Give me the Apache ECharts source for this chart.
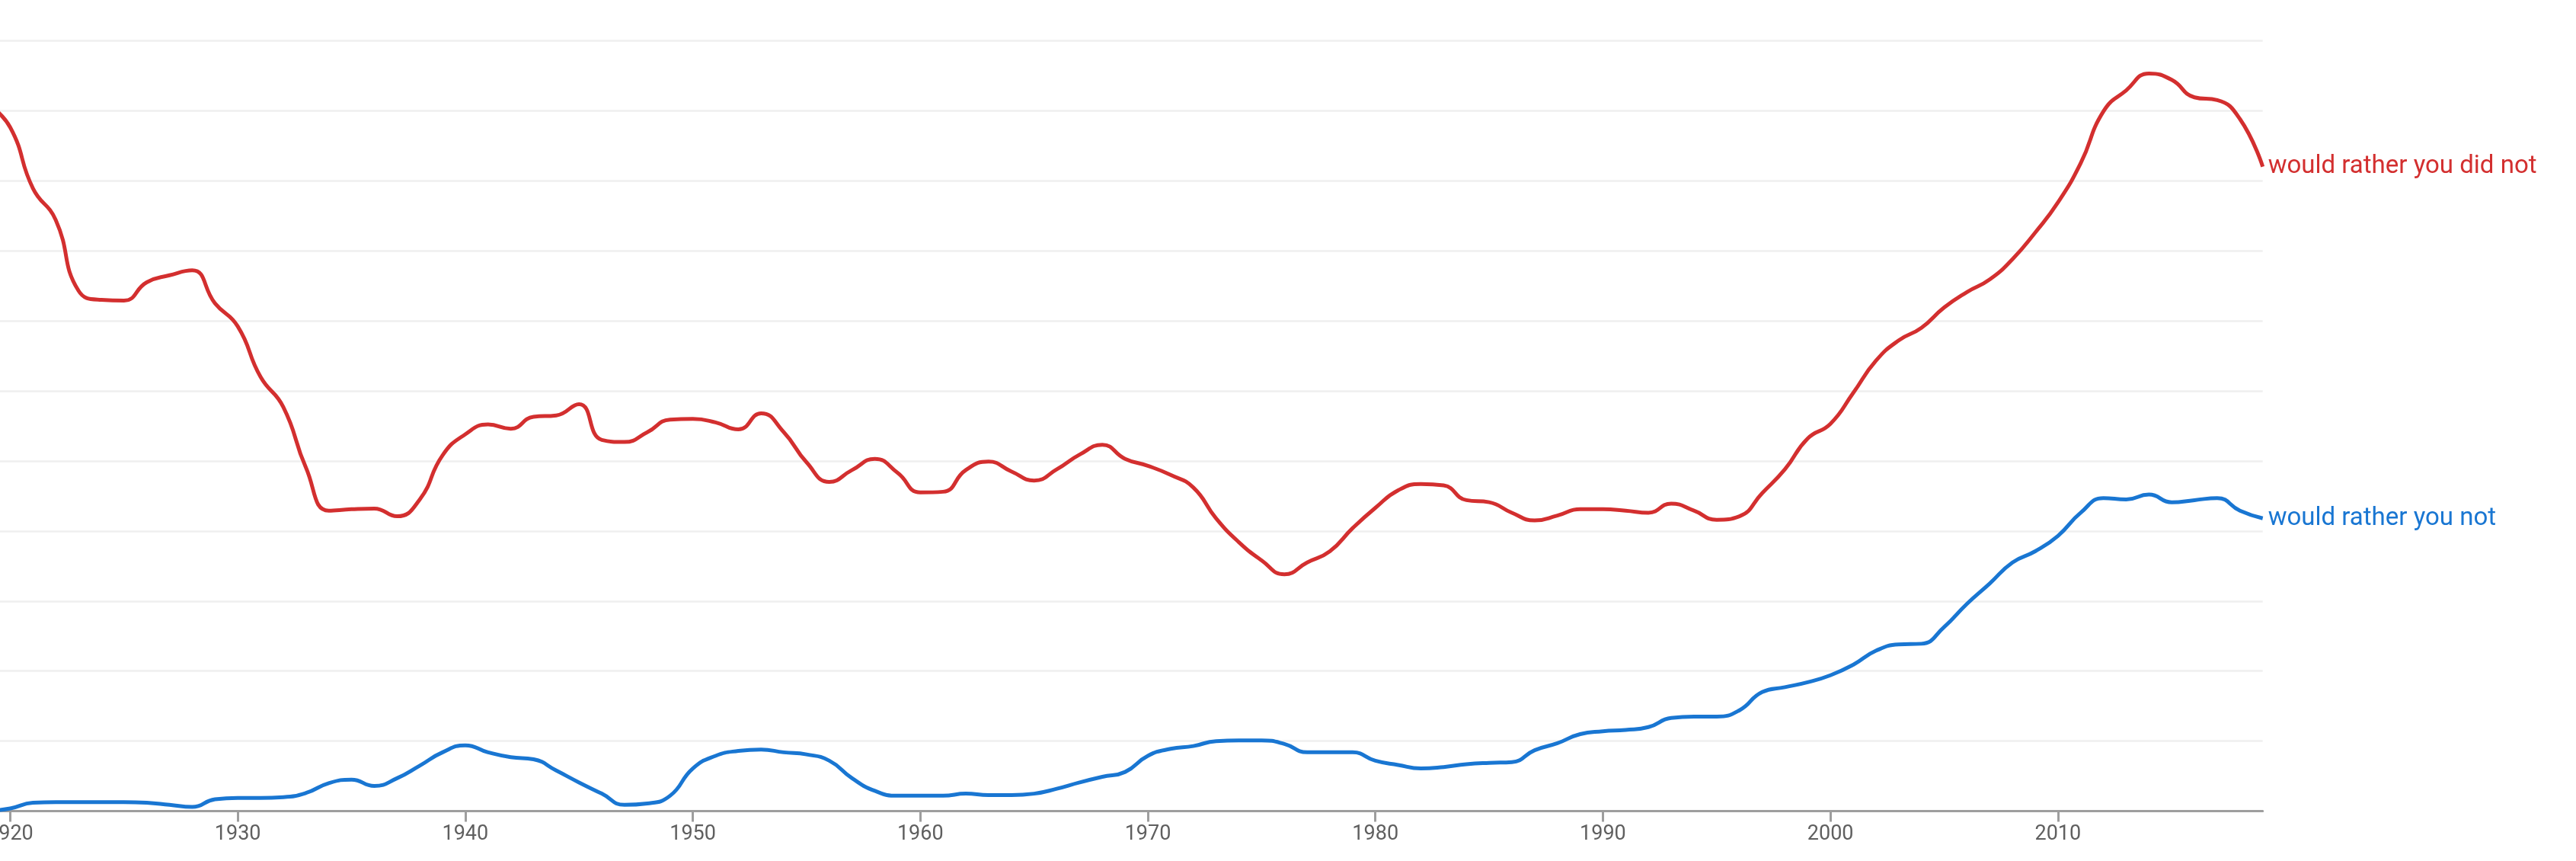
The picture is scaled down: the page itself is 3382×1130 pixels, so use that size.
<!DOCTYPE html>
<html><head><meta charset="utf-8">
<script src="https://cdn.jsdelivr.net/npm/echarts@6/dist/echarts.min.js"></script>
<style>html,body{margin:0;padding:0;background:#fff}#c{width:3382px;height:1130px}</style>
</head><body><div id="c"></div>
<script>
const years = [1919,1920,1921,1922,1923,1924,1925,1926,1927,1928,1929,
1930,1931,1932,1933,1934,1935,1936,1937,1938,1939,
1940,1941,1942,1943,1944,1945,1946,1947,1948,1949,
1950,1951,1952,1953,1954,1955,1956,1957,1958,1959,
1960,1961,1962,1963,1964,1965,1966,1967,1968,1969,
1970,1971,1972,1973,1974,1975,1976,1977,1978,1979,
1980,1981,1982,1983,1984,1985,1986,1987,1988,1989,
1990,1991,1992,1993,1994,1995,1996,1997,1998,1999,
2000,2001,2002,2003,2004,2005,2006,2007,2008,2009,
2010,2011,2012,2013,2014,2015,2016,2017,2018,2019];
const seriesNames = ['would rather you did not', 'would rather you not'];
const redValues = [10.1, 9.76, 8.89, 8.44, 7.43, 7.30, 7.29, 7.55, 7.65, 7.72, 7.25,
6.92, 6.20, 5.77, 4.90, 4.29, 4.31, 4.32, 4.21, 4.45, 5.08,
5.38, 5.52, 5.46, 5.63, 5.65, 5.81, 5.30, 5.27, 5.41, 5.59,
5.60, 5.55, 5.45, 5.68, 5.41, 4.98, 4.70, 4.87, 5.03, 4.83,
4.55, 4.56, 4.87, 4.99, 4.85, 4.72, 4.88, 5.09, 5.23, 5.03,
4.93, 4.80, 4.62, 4.18, 3.84, 3.58, 3.38, 3.55, 3.71, 4.04,
4.33, 4.58, 4.67, 4.65, 4.44, 4.41, 4.26, 4.15, 4.22, 4.31,
4.31, 4.29, 4.26, 4.39, 4.29, 4.16, 4.21, 4.54, 4.88, 5.32,
5.53, 5.97, 6.43, 6.72, 6.90, 7.19, 7.41, 7.59, 7.88, 8.26,
8.69, 9.25, 9.99, 10.29, 10.53, 10.44, 10.19, 10.15, 9.88, 9.20];
const blueValues = [0.0, 0.04, 0.12, 0.13, 0.13, 0.13, 0.13, 0.12, 0.09, 0.06, 0.17,
0.19, 0.19, 0.20, 0.26, 0.40, 0.45, 0.36, 0.47, 0.65, 0.84,
0.94, 0.84, 0.77, 0.74, 0.58, 0.41, 0.25, 0.09, 0.11, 0.22,
0.61, 0.79, 0.86, 0.88, 0.84, 0.81, 0.72, 0.47, 0.29, 0.22,
0.22, 0.22, 0.25, 0.23, 0.23, 0.25, 0.32, 0.41, 0.49, 0.56,
0.79, 0.89, 0.93, 1.00, 1.01, 1.01, 0.96, 0.84, 0.84, 0.84,
0.72, 0.66, 0.61, 0.63, 0.67, 0.69, 0.70, 0.87, 0.97, 1.10,
1.14, 1.16, 1.20, 1.33, 1.35, 1.35, 1.44, 1.70, 1.77, 1.84,
1.94, 2.09, 2.29, 2.38, 2.39, 2.63, 2.96, 3.25, 3.55, 3.71,
3.93, 4.26, 4.47, 4.45, 4.52, 4.41, 4.44, 4.47, 4.29, 4.18];
const tickYears = [1920, 1930, 1940, 1950, 1960, 1970, 1980, 1990, 2000, 2010];

const colors = ['#d32f2f', '#1976d2'];
const pairs = v => years.map((y, i) => [y, v[i]]);

const chart = echarts.init(document.getElementById('c'), null, {renderer: 'canvas'});
chart.setOption({
  animation: false,
  backgroundColor: '#ffffff',
  grid: {left: 0, right: 411.3, top: 53.3, height: 1011.3, containLabel: false, outerBoundsMode: 'none'},
  xAxis: {
    type: 'value', min: 1919.55, max: 2019,
    axisLine: {show: true, lineStyle: {color: '#9e9e9e', width: 3}},
    axisTick: {show: true, customValues: tickYears, length: 14, lineStyle: {color: '#9e9e9e', width: 3}},
    axisLabel: {show: true, customValues: tickYears, fontSize: 27, color: '#5f5f5f', fontFamily: 'Roboto', margin: 17,
      hideOverlap: false, formatter: v => String(v)},
    splitLine: {show: false}
  },
  yAxis: {
    type: 'value', min: 0, max: 11, interval: 1,
    axisLabel: {show: false}, axisLine: {show: false}, axisTick: {show: false},
    splitLine: {show: true, lineStyle: {color: '#efefef', width: 2.5}}
  },
  series: [
    {name: seriesNames[0], type: 'line', data: pairs(redValues), showSymbol: false, smooth: 0.5,
     lineStyle: {color: colors[0], width: 5}, itemStyle: {color: colors[0]},
     endLabel: {show: true, formatter: p => p.seriesName, color: colors[0], fontSize: 33, fontFamily: 'Roboto', distance: 7}},
    {name: seriesNames[1], type: 'line', data: pairs(blueValues), showSymbol: false, smooth: 0.5,
     lineStyle: {color: colors[1], width: 5}, itemStyle: {color: colors[1]},
     endLabel: {show: true, formatter: p => p.seriesName, color: colors[1], fontSize: 33, fontFamily: 'Roboto', distance: 7}}
  ]
});
</script>
</body></html>
